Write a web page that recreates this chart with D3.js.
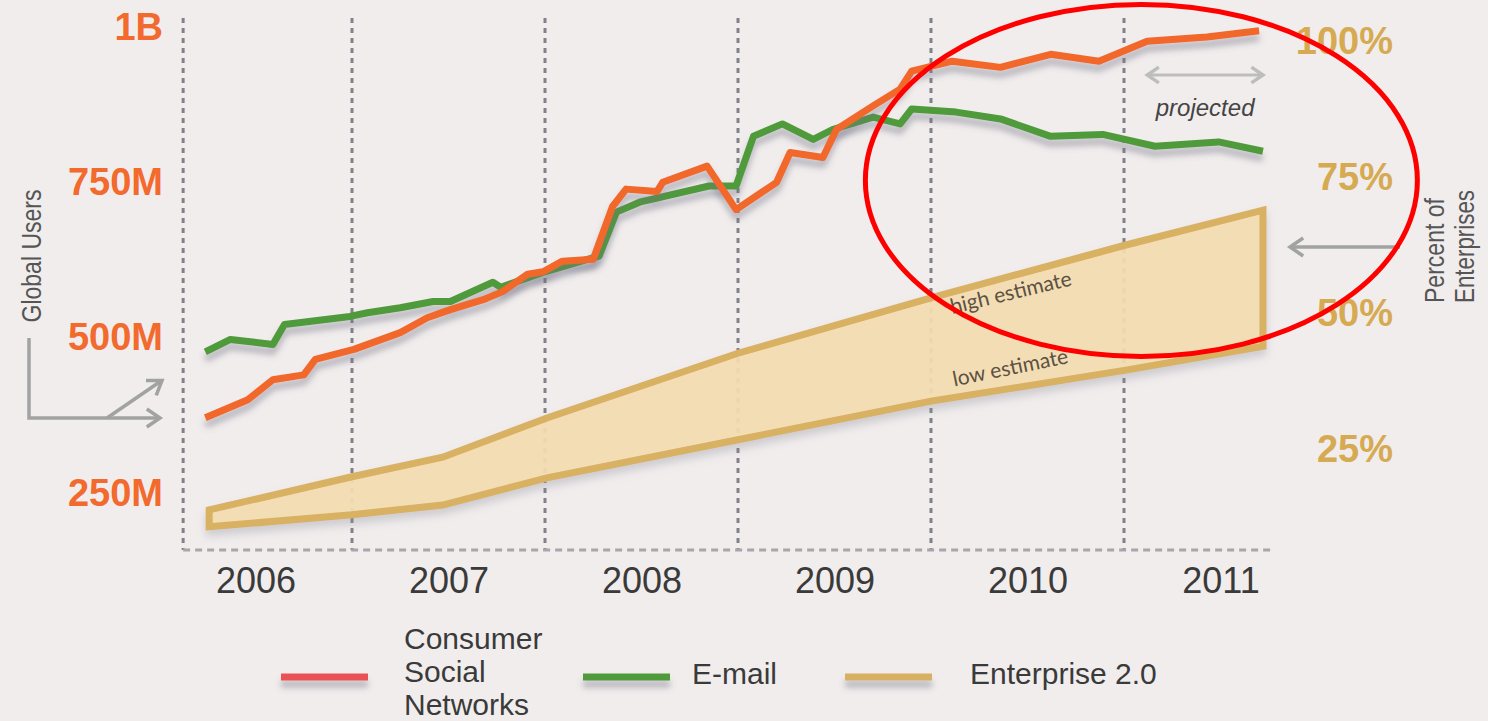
<!DOCTYPE html>
<html>
<head>
<meta charset="utf-8">
<script src="https://cdn.jsdelivr.net/npm/d3@7"></script>
<style>
  html, body { margin: 0; padding: 0; background: #f1eded; }
  svg { display: block; }
</style>
</head>
<body>
<svg id="chart" width="1488" height="721"></svg>
<script>
// ---- data ----
const years = [2006, 2007, 2008, 2009, 2010, 2011];

const userTicks = [250, 500, 750, 1000];
const userTickLabels = ["250M", "500M", "750M", "1B"];
const percentTicks = [25, 50, 75, 100];
const percentTickLabels = ["25%", "50%", "75%", "100%"];

// Consumer social networks, global users (millions)
const socialT = [2006.24, 2006.46, 2006.59, 2006.75, 2006.81, 2007.01, 2007.25, 2007.39, 2007.51, 2007.68,
                 2007.78, 2007.91, 2007.99, 2008.09, 2008.25, 2008.35, 2008.42, 2008.58, 2008.61, 2008.84,
                 2008.99, 2009.20, 2009.27, 2009.44, 2009.51, 2009.70, 2009.84, 2009.90, 2010.11, 2010.36,
                 2010.62, 2010.87, 2011.12, 2011.43, 2011.70];
const socialUsers = [371, 400, 432, 440, 465, 481, 508, 532, 545, 561,
                     574, 602, 606, 623, 626, 711, 739, 735, 750, 776,
                     706, 750, 798, 790, 835, 873, 900, 929, 945, 935,
                     956, 945, 977, 984, 994];

// E-mail, global users (millions)
const emailT = [2006.24, 2006.37, 2006.59, 2006.65, 2006.99, 2007.08, 2007.25, 2007.42, 2007.51, 2007.73,
                2007.77, 2007.99, 2008.22, 2008.28, 2008.37, 2008.49, 2008.85, 2008.99, 2009.08, 2009.23,
                2009.39, 2009.49, 2009.70, 2009.84, 2009.90, 2010.13, 2010.36, 2010.62, 2010.89, 2011.16,
                2011.49, 2011.72];
const emailUsers = [477, 497, 489, 521, 534, 540, 548, 558, 558, 589,
                    581, 605, 626, 631, 702, 718, 744, 744, 824, 844,
                    819, 835, 855, 844, 868, 863, 852, 824, 827, 808,
                    815, 800];

// Enterprise 2.0 adoption, percent of enterprises
const enterpriseT = [2006.26, 2007.0, 2007.47, 2008.01, 2009.0, 2010.0, 2011.01, 2011.72];
const enterpriseHigh = [13.8, 19.9, 23.5, 30.7, 42.6, 52.8, 62.5, 68.9];
const enterpriseLow = [10.7, 12.9, 14.7, 19.7, 26.7, 33.8, 39.5, 43.9];

const projectedFrom = 2011.1;   // start of projected values

// ---- layout ----
const svg = d3.select("#chart");
const W = 1488, H = 721;
const axisY = 550, topY = 18;
const FONT = "'Liberation Sans', Arial, Helvetica, sans-serif";

const x = d3.scaleLinear().domain([2006, 2012]).range([159, 1317]);
const yUsers = d3.scaleLinear().domain([158, 1000]).range([axisY, 27]);
const yPct = d3.scaleLinear().domain([0, 100]).range([585, 41]);

const xStart = x(2006.125), xEnd = x(2011.76);

svg.append("rect").attr("width", W).attr("height", H).attr("fill", "#f1eded");

// soft drop shadows under lines and band
const defs = svg.append("defs");
function dropShadow(id, dy, sd, color, op) {
  const f = defs.append("filter").attr("id", id)
    .attr("filterUnits", "userSpaceOnUse")
    .attr("x", 0).attr("y", 0).attr("width", W).attr("height", H);
  f.append("feDropShadow").attr("dx", 0).attr("dy", dy).attr("stdDeviation", sd)
    .attr("flood-color", color).attr("flood-opacity", op);
}
dropShadow("shadow", 7, 3, "#6f6f80", 0.45);
dropShadow("shadowBand", 6, 4, "#8a8a98", 0.35);

// ---- grid: year separators and baseline ----
const grid = svg.append("g");
grid.selectAll("line.sep")
  .data([2006.125].concat(years.slice(1)))
  .join("line")
  .attr("x1", d => x(d)).attr("x2", d => x(d))
  .attr("y1", topY).attr("y2", axisY)
  .attr("stroke", "#818189").attr("stroke-width", 3)
  .attr("stroke-dasharray", "5,5");
grid.append("line")
  .attr("x1", xStart).attr("x2", xEnd)
  .attr("y1", axisY).attr("y2", axisY)
  .attr("stroke", "#a6a6ac").attr("stroke-width", 3)
  .attr("stroke-dasharray", "7,5");

// ---- Enterprise 2.0 band ----
const bandData = enterpriseT.map((t, i) => ({ t, hi: enterpriseHigh[i], lo: enterpriseLow[i] }));
const area = d3.area()
  .x(d => x(d.t))
  .y0(d => yPct(d.lo))
  .y1(d => yPct(d.hi));
svg.append("path")
  .datum(bandData)
  .attr("d", area)
  .attr("fill", "#f6deb0").attr("fill-opacity", 0.9)
  .attr("stroke", "#d8b163").attr("stroke-width", 7)
  .attr("stroke-linejoin", "miter")
  .attr("filter", "url(#shadowBand)");

// band labels, laid along the estimate lines
const hiAt = d3.scaleLinear().domain(enterpriseT).range(enterpriseHigh);
const loAt = d3.scaleLinear().domain(enterpriseT).range(enterpriseLow);
function bandLabel(text, t, pct, dy, angle) {
  svg.append("text")
    .attr("transform", `translate(${x(t)},${yPct(pct) + dy}) rotate(${angle})`)
    .attr("font-family", "Lato, 'Noto Sans', sans-serif")
    .attr("font-size", 21)
    .attr("fill", "#5c5142")
    .text(text);
}
bandLabel("high estimate", 2010.11, hiAt(2010.11), 22, -13.5);
bandLabel("low estimate", 2010.12, loAt(2010.12), -11, -11.5);

// ---- user lines ----
const line = d3.line().x(d => x(d[0])).y(d => yUsers(d[1]));
svg.append("path")
  .datum(emailT.map((t, i) => [t, emailUsers[i]]))
  .attr("d", line)
  .attr("fill", "none").attr("stroke", "#4f9a3a").attr("stroke-width", 7)
  .attr("stroke-linejoin", "round")
  .attr("filter", "url(#shadow)");
svg.append("path")
  .datum(socialT.map((t, i) => [t, socialUsers[i]]))
  .attr("d", line)
  .attr("fill", "none").attr("stroke", "#f2672a").attr("stroke-width", 7)
  .attr("stroke-linejoin", "round")
  .attr("filter", "url(#shadow)");

// ---- axes ----
const leftAxis = d3.axisLeft(yUsers)
  .tickValues(userTicks)
  .tickFormat((d, i) => userTickLabels[i])
  .tickSize(0).tickPadding(0);
const gL = svg.append("g").attr("transform", "translate(163,0)").call(leftAxis);
gL.select(".domain").remove();
gL.selectAll("text")
  .attr("font-family", FONT).attr("font-size", 38).attr("font-weight", "bold")
  .attr("fill", "#f26a2d");

const rightAxis = d3.axisRight(yPct)
  .tickValues(percentTicks)
  .tickFormat((d, i) => percentTickLabels[i])
  .tickSize(0).tickPadding(0);
const gR = svg.append("g").attr("transform", "translate(1393,0)").call(rightAxis);
gR.select(".domain").remove();
gR.selectAll("text")
  .attr("x", 0).attr("text-anchor", "end")
  .attr("font-family", FONT).attr("font-size", 38).attr("font-weight", "bold")
  .attr("fill", "#d6aa52");

const bottomAxis = d3.axisBottom(x)
  .tickValues(years.map(y => y + 0.5))
  .tickFormat(d => String(Math.floor(d)))
  .tickSize(0).tickPadding(17);
const gB = svg.append("g").attr("transform", `translate(0,${axisY})`).call(bottomAxis);
gB.select(".domain").remove();
gB.selectAll("text")
  .attr("font-family", FONT).attr("font-size", 36)
  .attr("fill", "#3a3a3a");

// ---- axis titles and pointer arrows ----
const gray = "#a2a2a2";
function arrowHead(g, xTip, yTip, angleDeg, size, color) {
  const a = angleDeg * Math.PI / 180, s = size;
  const p = (da) => [xTip - s * Math.cos(a + da), yTip - s * Math.sin(a + da)];
  const [x1, y1] = p(0.6), [x2, y2] = p(-0.6);
  g.append("path")
    .attr("d", `M${x1},${y1}L${xTip},${yTip}L${x2},${y2}`)
    .attr("fill", "none").attr("stroke", color || gray).attr("stroke-width", 3.5)
    .attr("stroke-linejoin", "miter");
}

svg.append("text")
  .attr("transform", "translate(41,256) rotate(-90)")
  .attr("text-anchor", "middle")
  .attr("font-family", FONT).attr("font-size", 28)
  .attr("textLength", 133).attr("lengthAdjust", "spacingAndGlyphs")
  .attr("fill", "#555").text("Global Users");

const ga = svg.append("g");
ga.append("path").attr("d", "M29,338V418H158")
  .attr("fill", "none").attr("stroke", gray).attr("stroke-width", 3.5);
arrowHead(ga, 160, 418, 0, 16);
ga.append("line").attr("x1", 107).attr("y1", 418).attr("x2", 161).attr("y2", 381)
  .attr("stroke", gray).attr("stroke-width", 3.5);
arrowHead(ga, 162, 380.5, -34.4, 16);

svg.append("text")
  .attr("transform", "translate(1444,303) rotate(-90)")
  .attr("font-family", FONT).attr("font-size", 28)
  .attr("textLength", 105).attr("lengthAdjust", "spacingAndGlyphs")
  .attr("fill", "#555").text("Percent of");
svg.append("text")
  .attr("transform", "translate(1474,303) rotate(-90)")
  .attr("font-family", FONT).attr("font-size", 28)
  .attr("textLength", 113).attr("lengthAdjust", "spacingAndGlyphs")
  .attr("fill", "#555").text("Enterprises");

const gr = svg.append("g");
gr.append("line").attr("x1", 1400).attr("x2", 1292).attr("y1", 247).attr("y2", 247)
  .attr("stroke", gray).attr("stroke-width", 3.5);
arrowHead(gr, 1290, 247, 180, 16);

// projected span marker
const gp = svg.append("g");
const pX0 = x(projectedFrom) + 4, pX1 = x(2011.72);
const lightGray = "#bdbdbd";
gp.append("line").attr("x1", pX0 + 2).attr("x2", pX1 - 2).attr("y1", 75).attr("y2", 75)
  .attr("stroke", lightGray).attr("stroke-width", 3);
arrowHead(gp, pX0, 75, 180, 14, lightGray);
arrowHead(gp, pX1, 75, 0, 14, lightGray);
gp.append("text")
  .attr("x", (pX0 + pX1) / 2).attr("y", 116)
  .attr("text-anchor", "middle")
  .attr("font-family", FONT).attr("font-size", 24).attr("font-style", "italic")
  .attr("fill", "#444").text("projected");

// ---- legend ----
const legend = svg.append("g");
const legendItems = [
  { label: ["Consumer", "Social", "Networks"], color: "#ea5155", x0: 281, tx: 404 },
  { label: ["E-mail"], color: "#4f9a3a", x0: 583, tx: 692 },
  { label: ["Enterprise 2.0"], color: "#d8b063", x0: 845, tx: 970 }
];
legendItems.forEach(it => {
  legend.append("rect")
    .attr("x", it.x0).attr("y", 673.5).attr("width", 87).attr("height", 7)
    .attr("fill", it.color)
    .attr("filter", "url(#shadow)");
  const t = legend.append("text")
    .attr("font-family", FONT).attr("font-size", 30).attr("fill", "#3a3a3a");
  it.label.forEach((s, i) => {
    t.append("tspan").attr("x", it.tx)
      .attr("y", it.label.length > 1 ? 649 + i * 33 : 684)
      .text(s);
  });
});

// ---- highlight ellipse around the projected period ----
svg.append("ellipse")
  .attr("cx", x(2011.09)).attr("cy", yUsers(753))
  .attr("rx", 276).attr("ry", 176)
  .attr("fill", "none").attr("stroke", "#ff0000").attr("stroke-width", 5);
</script>
</body>
</html>
